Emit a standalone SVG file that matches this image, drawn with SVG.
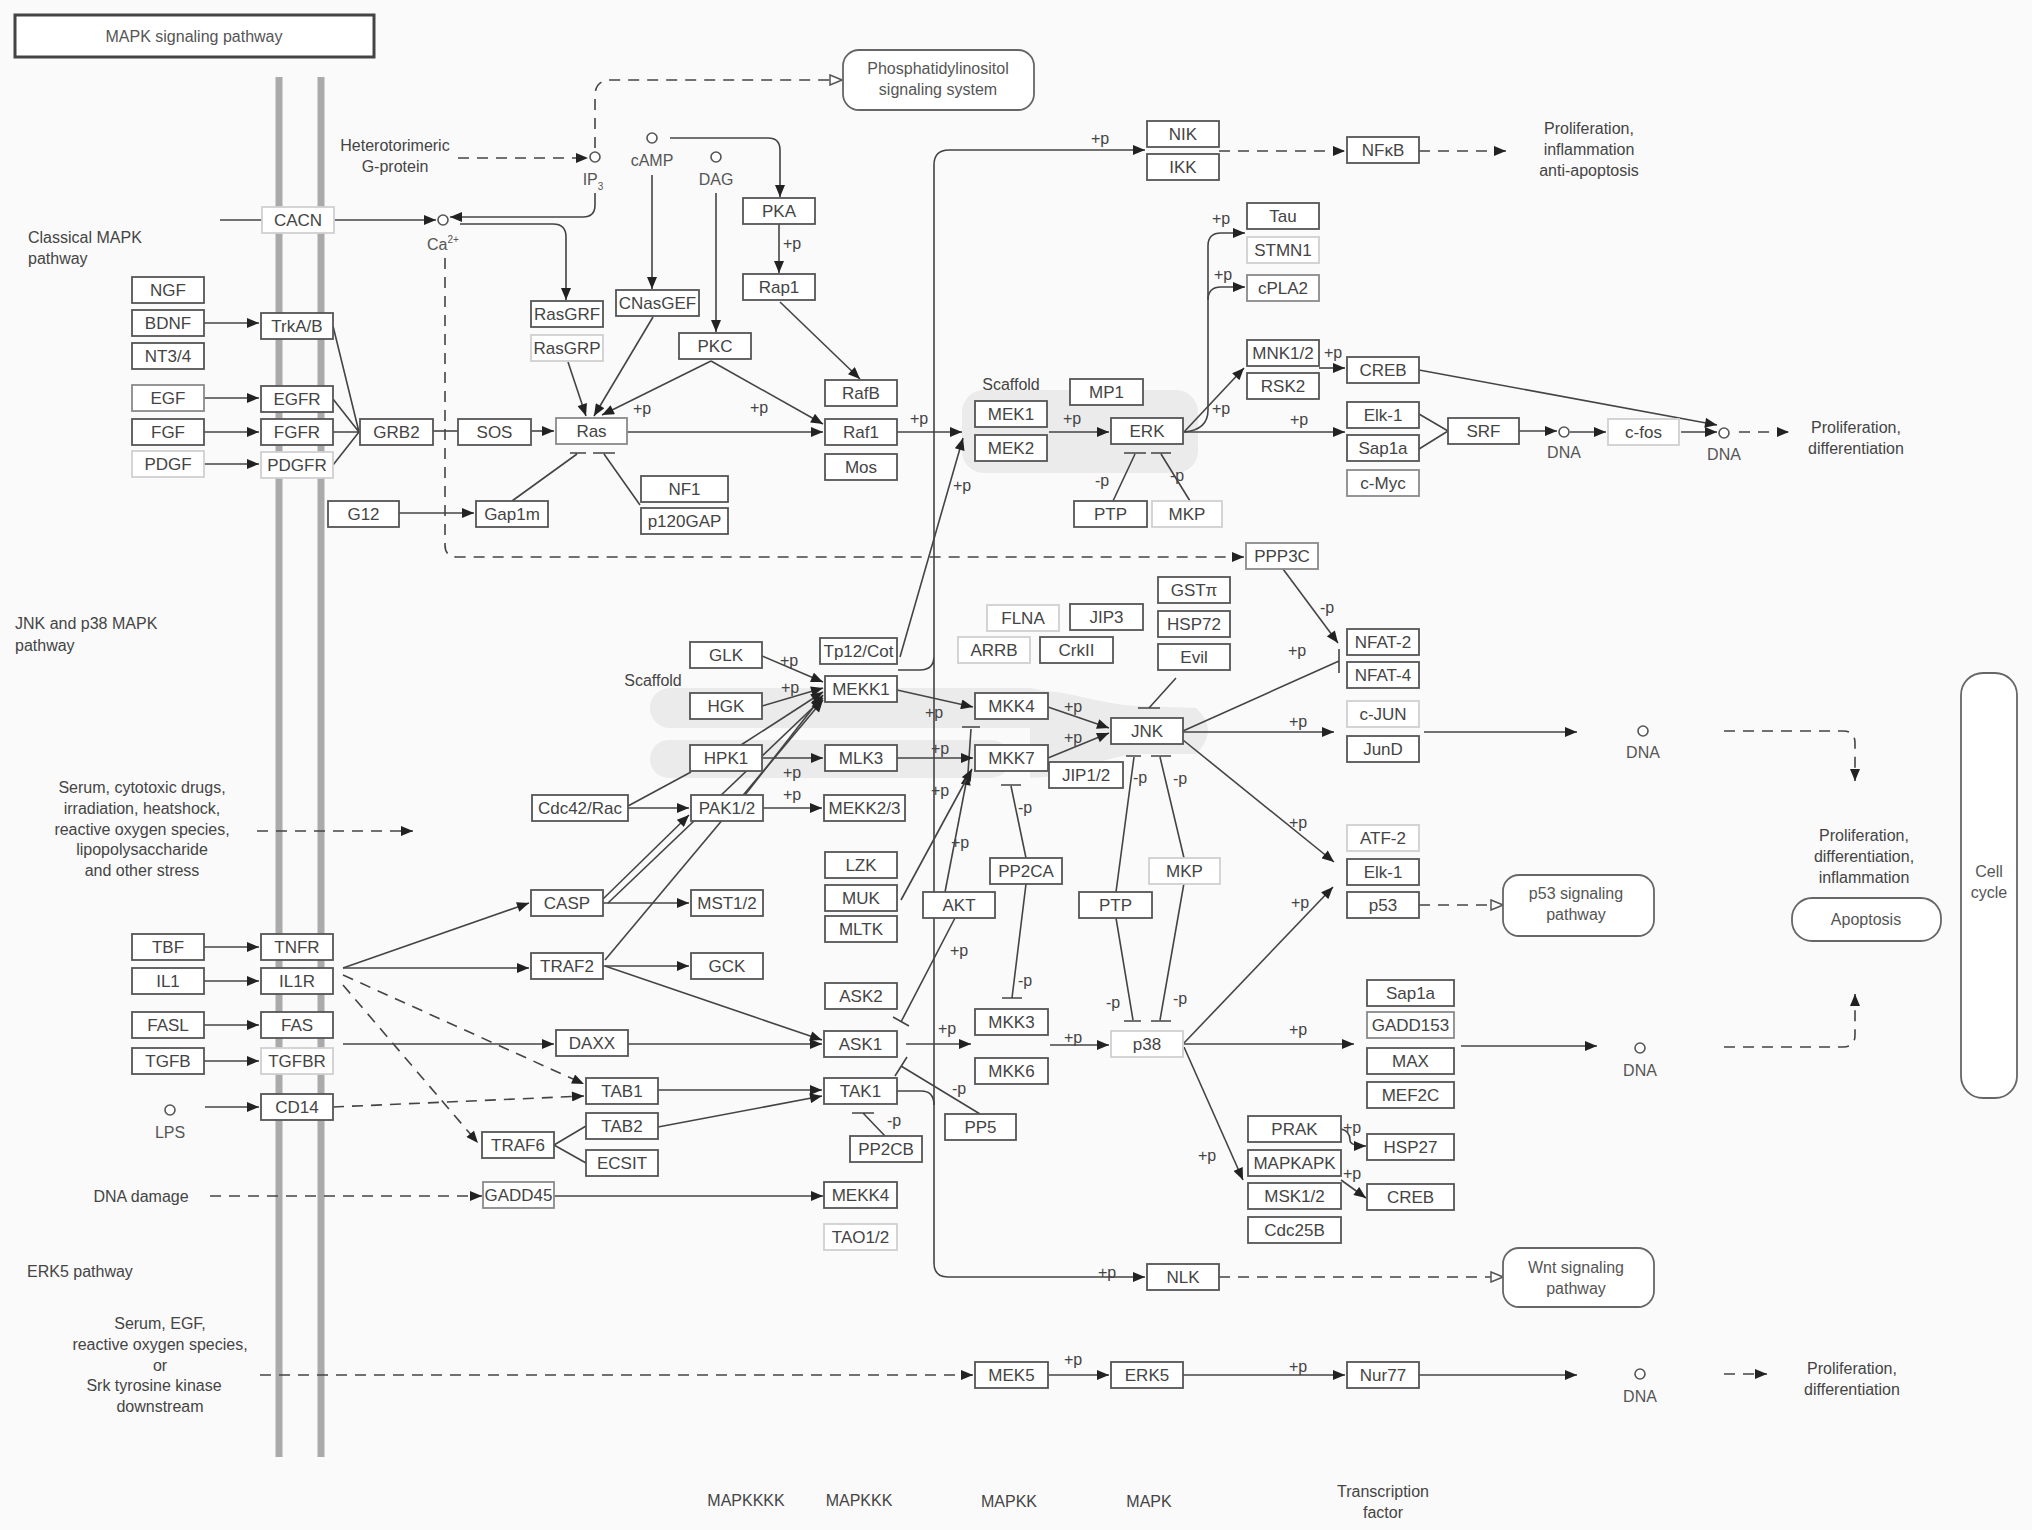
<svg xmlns="http://www.w3.org/2000/svg" width="2032" height="1530" viewBox="0 0 2032 1530">
<style>
text{font-family:"Liberation Sans",Arial,sans-serif;fill:#444;}
.n rect{fill:#fff;stroke:#555;stroke-width:1.8}
.m rect{stroke:#8a8a8a}
.l rect{stroke:#d0d0d0}
.n text{font-size:17px;text-anchor:middle;dominant-baseline:central}
.t{font-size:16px;fill:#555}
.c{text-anchor:middle}
.p{font-size:16px;fill:#444}
.e{fill:none;stroke:#444;stroke-width:1.6}
.d{stroke-dasharray:11 8}
.pw rect{fill:#fff;stroke:#666;stroke-width:1.8}
.pw text{font-size:16px;fill:#555;text-anchor:middle;dominant-baseline:central}
.ci{fill:#fff;stroke:#555;stroke-width:1.6}
.sc{fill:#ebebeb}
.mem{stroke:#aaa;stroke-width:7}
</style>
<defs>
<marker id="a" viewBox="0 0 12 10" refX="12" refY="5" markerWidth="13" markerHeight="10" markerUnits="userSpaceOnUse" orient="auto"><path d="M0,0 L12,5 L0,10 z" fill="#222"/></marker>
<marker id="o" viewBox="0 0 14 12" refX="13" refY="6" markerWidth="14" markerHeight="12" markerUnits="userSpaceOnUse" orient="auto"><path d="M1,1 L13,6 L1,11 z" fill="#fff" stroke="#555" stroke-width="1.5"/></marker>
</defs>
<rect x="0" y="0" width="2032" height="1530" fill="#fafafa"/>

<!-- scaffolds -->
<g id="scaffolds">
<rect class="sc" x="962" y="390" width="236" height="83" rx="22"/>
<rect class="sc" x="650" y="688" width="400" height="40" rx="20"/>
<rect class="sc" x="650" y="740" width="360" height="38" rx="19"/>
<path class="sc" d="M1030,690 C1070,690 1100,705 1140,706 L1196,708 Q1220,730 1196,754 L1140,754 C1100,756 1070,778 1030,778 Z"/>
</g>

<!-- membrane -->
<g id="membrane">
<line class="mem" x1="279" y1="77" x2="279" y2="1457"/>
<line class="mem" x1="321" y1="77" x2="321" y2="1457"/>
</g>

<!-- title -->
<g id="title">
<rect x="15" y="15" width="359" height="42" fill="#fff" stroke="#444" stroke-width="3"/>
<text class="t c" x="194" y="36" dominant-baseline="central">MAPK signaling pathway</text>
</g>

<!-- connectors -->
<g id="connectors">
<path class="e" d="M220,220 H262"/>
<path class="e" d="M334,220 H436" marker-end="url(#a)"/>
<path class="e d" d="M458,158 H588" marker-end="url(#a)"/>
<path class="e d" d="M595,148 V96 Q595,80 611,80 H842" marker-end="url(#o)"/>
<path class="e" d="M595,193 V205 Q595,217 583,217 H450" marker-end="url(#a)"/>
<path class="e" d="M460,224 H553 Q566,224 566,237 V300" marker-end="url(#a)"/>
<path class="e d" d="M445,258 V545 Q445,557 457,557 H1244" marker-end="url(#a)"/>
<path class="e" d="M670,138 H768 Q780,138 780,150 V197" marker-end="url(#a)"/>
<path class="e" d="M652,175 V289" marker-end="url(#a)"/>
<path class="e" d="M716,193 V332" marker-end="url(#a)"/>
<path class="e" d="M779,224 V273" marker-end="url(#a)"/>
<path class="e" d="M780,302 L860,379" marker-end="url(#a)"/>
<path class="e" d="M568,362 L586,416" marker-end="url(#a)"/>
<path class="e" d="M653,317 L594,416" marker-end="url(#a)"/>
<path class="e" d="M711,361 L602,415" marker-end="url(#a)"/>
<path class="e" d="M711,361 L823,424" marker-end="url(#a)"/>
<path class="e" d="M627,432 H823" marker-end="url(#a)"/>
<path class="e" d="M531,431 H554" marker-end="url(#a)"/>
<path class="e" d="M433,431 H458"/>
<path class="e" d="M333,326 L359,432 M333,399 L359,432 M333,432 L359,432 M333,465 L359,432"/>
<path class="e" d="M204,323 H259" marker-end="url(#a)"/>
<path class="e" d="M204,398 H259" marker-end="url(#a)"/>
<path class="e" d="M204,432 H259" marker-end="url(#a)"/>
<path class="e" d="M204,464 H259" marker-end="url(#a)"/>
<path class="e" d="M204,947 H259" marker-end="url(#a)"/>
<path class="e" d="M204,981 H259" marker-end="url(#a)"/>
<path class="e" d="M204,1025 H259" marker-end="url(#a)"/>
<path class="e" d="M204,1061 H259" marker-end="url(#a)"/>
<path class="e" d="M205,1107 H259" marker-end="url(#a)"/>
<path class="e" d="M399,513 H474" marker-end="url(#a)"/>
<path class="e" d="M570,453 H586 M593,453 H615 M577,454 L512,501 M604,454 L640,505"/>
<path class="e" d="M897,432 H962" marker-end="url(#a)"/>
<path class="e" d="M900,657 L963,438" marker-end="url(#a)"/>
<path class="e" d="M898,670 H920 Q934,670 934,656 M934,1263 V165 Q934,150 949,150 H1145" marker-end="url(#a)"/>
<path class="e" d="M897,1091 H921 Q934,1091 934,1105 M934,1263 Q934,1277 948,1277 H1145" marker-end="url(#a)"/>
<path class="e d" d="M1219,151 H1345" marker-end="url(#a)"/>
<path class="e d" d="M1419,151 H1506" marker-end="url(#a)"/>
<path class="e" d="M1049,432 H1109" marker-end="url(#a)"/>
<path class="e" d="M1184,432 Q1208,430 1208,410 V246 Q1208,233 1221,233 H1245" marker-end="url(#a)"/>
<path class="e" d="M1208,300 Q1208,287 1221,287 H1245" marker-end="url(#a)"/>
<path class="e" d="M1184,432 L1244,368" marker-end="url(#a)"/>
<path class="e" d="M1319,368 H1345" marker-end="url(#a)"/>
<path class="e" d="M1184,432 H1345" marker-end="url(#a)"/>
<path class="e" d="M1419,414 L1448,431 M1419,449 L1448,431"/>
<path class="e" d="M1519,431 H1557" marker-end="url(#a)"/>
<path class="e" d="M1570,432 H1606" marker-end="url(#a)"/>
<path class="e" d="M1681,432 H1717" marker-end="url(#a)"/>
<path class="e" d="M1419,370 L1717,425" marker-end="url(#a)"/>
<path class="e d" d="M1739,432 H1789" marker-end="url(#a)"/>
<path class="e" d="M1124,453 H1146 M1151,453 H1171 M1113,501 L1135,454 M1190,501 L1161,454"/>
<path class="e" d="M1283,569 L1338,643" marker-end="url(#a)"/>
<path class="e" d="M1183,731 L1339,661 M1339,649 V673"/>
<path class="e" d="M1183,732 H1334" marker-end="url(#a)"/>
<path class="e" d="M1424,732 H1577" marker-end="url(#a)"/>
<path class="e d" d="M1724,731 H1843 Q1855,731 1855,743 V781" marker-end="url(#a)"/>
<path class="e" d="M1183,740 L1334,862" marker-end="url(#a)"/>
<path class="e" d="M1184,1043 L1333,887" marker-end="url(#a)"/>
<path class="e d" d="M1419,905 H1503" marker-end="url(#o)"/>
<path class="e" d="M1176,678 L1149,708 M1138,708 H1160"/>
<path class="e" d="M1048,707 L1109,728" marker-end="url(#a)"/>
<path class="e" d="M1048,758 L1109,733" marker-end="url(#a)"/>
<path class="e" d="M1126,756 H1141 M1151,756 H1171 M1116,892 L1134,757 M1184,858 L1160,757"/>
<path class="e" d="M1124,1021 H1141 M1151,1021 H1171 M1116,918 L1133,1020 M1184,883 L1160,1020"/>
<path class="e" d="M1050,1045 H1109" marker-end="url(#a)"/>
<path class="e" d="M1184,1044 H1354" marker-end="url(#a)"/>
<path class="e" d="M1461,1046 H1597" marker-end="url(#a)"/>
<path class="e d" d="M1724,1047 H1843 Q1855,1047 1855,1035 V994" marker-end="url(#a)"/>
<path class="e" d="M1184,1047 L1243,1180" marker-end="url(#a)"/>
<path class="e" d="M1341,1129 Q1350,1131 1350,1140 Q1350,1146 1366,1146" marker-end="url(#a)"/>
<path class="e" d="M1341,1180 L1366,1198" marker-end="url(#a)"/>
<path class="e d" d="M1219,1277 H1503" marker-end="url(#o)"/>
<path class="e" d="M1049,1375 H1109" marker-end="url(#a)"/>
<path class="e" d="M1183,1375 H1345" marker-end="url(#a)"/>
<path class="e" d="M1419,1375 H1577" marker-end="url(#a)"/>
<path class="e d" d="M1724,1374 H1767" marker-end="url(#a)"/>
<path class="e d" d="M260,1375 H973" marker-end="url(#a)"/>
<path class="e d" d="M210,1196 H482" marker-end="url(#a)"/>
<path class="e" d="M554,1196 H823" marker-end="url(#a)"/>
<path class="e d" d="M257,831 H413" marker-end="url(#a)"/>
<path class="e" d="M343,968 L529,903" marker-end="url(#a)"/>
<path class="e" d="M343,968 H529" marker-end="url(#a)"/>
<path class="e d" d="M343,975 L584,1084" marker-end="url(#a)"/>
<path class="e d" d="M343,985 L478,1143" marker-end="url(#a)"/>
<path class="e d" d="M333,1107 L584,1096" marker-end="url(#a)"/>
<path class="e" d="M343,1044 H554" marker-end="url(#a)"/>
<path class="e" d="M628,1044 H822" marker-end="url(#a)"/>
<path class="e" d="M605,966 L822,1040" marker-end="url(#a)"/>
<path class="e" d="M658,1090 H822" marker-end="url(#a)"/>
<path class="e" d="M658,1127 L822,1096" marker-end="url(#a)"/>
<path class="e" d="M554,1145 L586,1126 M554,1145 L586,1163"/>
<path class="e" d="M885,1136 L863,1113 M852,1113 H874"/>
<path class="e" d="M980,1114 L901,1066 M895,1076 L907,1057"/>
<path class="e" d="M906,1044 H971" marker-end="url(#a)"/>
<path class="e" d="M955,918 L901,1022 M893,1017 L909,1026"/>
<path class="e" d="M945,892 L968,773" marker-end="url(#a)"/>
<path class="e" d="M968,773 L971,729 M962,727 H980"/>
<path class="e" d="M901,900 L972,769" marker-end="url(#a)"/>
<path class="e" d="M1026,858 L1011,786 M1001,785 H1021"/>
<path class="e" d="M1026,884 L1012,998 M1002,998 H1022"/>
<path class="e" d="M897,690 L973,707" marker-end="url(#a)"/>
<path class="e" d="M897,758 H973" marker-end="url(#a)"/>
<path class="e" d="M762,758 H823" marker-end="url(#a)"/>
<path class="e" d="M762,808 H822" marker-end="url(#a)"/>
<path class="e" d="M762,656 L823,682" marker-end="url(#a)"/>
<path class="e" d="M762,706 L823,688" marker-end="url(#a)"/>
<path class="e" d="M741,745 L823,692" marker-end="url(#a)"/>
<path class="e" d="M745,795 L823,695" marker-end="url(#a)"/>
<path class="e" d="M608,903 L823,698" marker-end="url(#a)"/>
<path class="e" d="M605,960 L823,700" marker-end="url(#a)"/>
<path class="e" d="M628,806 L691,772"/>
<path class="e" d="M628,808 H689" marker-end="url(#a)"/>
<path class="e" d="M603,899 L689,815" marker-end="url(#a)"/>
<path class="e" d="M603,903 H689" marker-end="url(#a)"/>
<path class="e" d="M603,966 H689" marker-end="url(#a)"/>
</g>

<!-- small molecules -->
<g id="compounds">
<circle class="ci" cx="443" cy="220" r="5"/>
<circle class="ci" cx="595" cy="157" r="5"/>
<circle class="ci" cx="652" cy="138" r="5"/>
<circle class="ci" cx="716" cy="157" r="5"/>
<circle class="ci" cx="170" cy="1110" r="5"/>
<circle class="ci" cx="1564" cy="432" r="5"/>
<circle class="ci" cx="1724" cy="433" r="5"/>
<circle class="ci" cx="1643" cy="731" r="5"/>
<circle class="ci" cx="1640" cy="1048" r="5"/>
<circle class="ci" cx="1640" cy="1374" r="5"/>
<text class="t c" x="443" y="250">Ca<tspan font-size="10" dy="-7">2+</tspan></text>
<text class="t c" x="593" y="185">IP<tspan font-size="10" dy="5">3</tspan></text>
<text class="t c" x="652" y="166">cAMP</text>
<text class="t c" x="716" y="185">DAG</text>
<text class="t c" x="170" y="1138">LPS</text>
<text class="t c" x="1564" y="458">DNA</text>
<text class="t c" x="1724" y="460">DNA</text>
<text class="t c" x="1643" y="758">DNA</text>
<text class="t c" x="1640" y="1076">DNA</text>
<text class="t c" x="1640" y="1402">DNA</text>
</g>

<!-- nodes -->
<g class="n" id="NGF"><rect x="132" y="277" width="72" height="26"/><text x="168" y="290">NGF</text></g>
<g class="n" id="BDNF"><rect x="132" y="310" width="72" height="26"/><text x="168" y="323">BDNF</text></g>
<g class="n" id="NT34"><rect x="132" y="343" width="72" height="26"/><text x="168" y="356">NT3/4</text></g>
<g class="n m" id="EGF"><rect x="132" y="385" width="72" height="26"/><text x="168" y="398">EGF</text></g>
<g class="n" id="FGF"><rect x="132" y="419" width="72" height="26"/><text x="168" y="432">FGF</text></g>
<g class="n l" id="PDGF"><rect x="132" y="451" width="72" height="26"/><text x="168" y="464">PDGF</text></g>
<g class="n" id="TBF"><rect x="132" y="934" width="72" height="26"/><text x="168" y="947">TBF</text></g>
<g class="n" id="IL1"><rect x="132" y="968" width="72" height="26"/><text x="168" y="981">IL1</text></g>
<g class="n" id="FASL"><rect x="132" y="1012" width="72" height="26"/><text x="168" y="1025">FASL</text></g>
<g class="n" id="TGFB"><rect x="132" y="1048" width="72" height="26"/><text x="168" y="1061">TGFB</text></g>
<g class="n l" id="CACN"><rect x="262" y="207" width="72" height="26"/><text x="298" y="220">CACN</text></g>
<g class="n" id="TrkAB"><rect x="261" y="313" width="72" height="26"/><text x="297" y="326">TrkA/B</text></g>
<g class="n" id="EGFR"><rect x="261" y="386" width="72" height="26"/><text x="297" y="399">EGFR</text></g>
<g class="n" id="FGFR"><rect x="261" y="419" width="72" height="26"/><text x="297" y="432">FGFR</text></g>
<g class="n l" id="PDGFR"><rect x="261" y="452" width="72" height="26"/><text x="297" y="465">PDGFR</text></g>
<g class="n" id="TNFR"><rect x="261" y="934" width="72" height="26"/><text x="297" y="947">TNFR</text></g>
<g class="n" id="IL1R"><rect x="261" y="968" width="72" height="26"/><text x="297" y="981">IL1R</text></g>
<g class="n" id="FAS"><rect x="261" y="1012" width="72" height="26"/><text x="297" y="1025">FAS</text></g>
<g class="n l" id="TGFBR"><rect x="261" y="1048" width="72" height="26"/><text x="297" y="1061">TGFBR</text></g>
<g class="n" id="CD14"><rect x="261" y="1094" width="72" height="26"/><text x="297" y="1107">CD14</text></g>
<g class="n" id="GRB2"><rect x="360" y="419" width="73" height="26"/><text x="396.5" y="432">GRB2</text></g>
<g class="n" id="SOS"><rect x="458" y="419" width="73" height="26"/><text x="494.5" y="432">SOS</text></g>
<g class="n" id="G12"><rect x="328" y="501" width="71" height="26"/><text x="363.5" y="514">G12</text></g>
<g class="n" id="Gap1m"><rect x="476" y="501" width="72" height="26"/><text x="512" y="514">Gap1m</text></g>
<g class="n m" id="Ras"><rect x="556" y="418" width="71" height="26"/><text x="591.5" y="431">Ras</text></g>
<g class="n" id="RasGRF"><rect x="531" y="301" width="72" height="26"/><text x="567" y="314">RasGRF</text></g>
<g class="n l" id="RasGRP"><rect x="531" y="335" width="72" height="26"/><text x="567" y="348">RasGRP</text></g>
<g class="n" id="CNasGEF"><rect x="616" y="290" width="83" height="26"/><text x="657.5" y="303">CNasGEF</text></g>
<g class="n" id="PKC"><rect x="679" y="333" width="72" height="26"/><text x="715" y="346">PKC</text></g>
<g class="n" id="PKA"><rect x="743" y="198" width="72" height="26"/><text x="779" y="211">PKA</text></g>
<g class="n" id="Rap1"><rect x="743" y="274" width="72" height="26"/><text x="779" y="287">Rap1</text></g>
<g class="n" id="RafB"><rect x="825" y="380" width="72" height="26"/><text x="861" y="393">RafB</text></g>
<g class="n" id="Raf1"><rect x="825" y="419" width="72" height="26"/><text x="861" y="432">Raf1</text></g>
<g class="n" id="Mos"><rect x="825" y="454" width="72" height="26"/><text x="861" y="467">Mos</text></g>
<g class="n" id="NF1"><rect x="641" y="476" width="87" height="26"/><text x="684.5" y="489">NF1</text></g>
<g class="n" id="p120GAP"><rect x="641" y="508" width="87" height="26"/><text x="684.5" y="521">p120GAP</text></g>
<g class="n" id="MEK1"><rect x="975" y="401" width="72" height="26"/><text x="1011" y="414">MEK1</text></g>
<g class="n" id="MEK2"><rect x="975" y="435" width="72" height="26"/><text x="1011" y="448">MEK2</text></g>
<g class="n" id="MP1"><rect x="1070" y="379" width="73" height="26"/><text x="1106.5" y="392">MP1</text></g>
<g class="n" id="ERK"><rect x="1111" y="418" width="72" height="26"/><text x="1147" y="431">ERK</text></g>
<g class="n" id="PTP1"><rect x="1074" y="501" width="73" height="26"/><text x="1110.5" y="514">PTP</text></g>
<g class="n l" id="MKP1"><rect x="1152" y="501" width="70" height="26"/><text x="1187" y="514">MKP</text></g>
<g class="n" id="NIK"><rect x="1147" y="121" width="72" height="26"/><text x="1183" y="134">NIK</text></g>
<g class="n" id="IKK"><rect x="1147" y="154" width="72" height="26"/><text x="1183" y="167">IKK</text></g>
<g class="n" id="NFkB"><rect x="1347" y="137" width="72" height="26"/><text x="1383" y="150">NFκB</text></g>
<g class="n" id="Tau"><rect x="1247" y="203" width="72" height="26"/><text x="1283" y="216">Tau</text></g>
<g class="n l" id="STMN1"><rect x="1247" y="237" width="72" height="26"/><text x="1283" y="250">STMN1</text></g>
<g class="n m" id="cPLA2"><rect x="1247" y="275" width="72" height="26"/><text x="1283" y="288">cPLA2</text></g>
<g class="n" id="MNK12"><rect x="1247" y="340" width="72" height="26"/><text x="1283" y="353">MNK1/2</text></g>
<g class="n" id="RSK2"><rect x="1247" y="373" width="72" height="26"/><text x="1283" y="386">RSK2</text></g>
<g class="n" id="CREB1"><rect x="1347" y="357" width="72" height="26"/><text x="1383" y="370">CREB</text></g>
<g class="n" id="Elk1a"><rect x="1347" y="402" width="72" height="26"/><text x="1383" y="415">Elk-1</text></g>
<g class="n" id="Sap1a1"><rect x="1347" y="435" width="72" height="26"/><text x="1383" y="448">Sap1a</text></g>
<g class="n m" id="cMyc"><rect x="1347" y="470" width="72" height="26"/><text x="1383" y="483">c-Myc</text></g>
<g class="n" id="SRF"><rect x="1448" y="418" width="71" height="26"/><text x="1483.5" y="431">SRF</text></g>
<g class="n l" id="cfos"><rect x="1608" y="419" width="71" height="26"/><text x="1643.5" y="432">c-fos</text></g>
<g class="n m" id="PPP3C"><rect x="1246" y="543" width="72" height="26"/><text x="1282" y="556">PPP3C</text></g>
<g class="n" id="GLK"><rect x="690" y="642" width="72" height="26"/><text x="726" y="655">GLK</text></g>
<g class="n" id="Tp12Cot"><rect x="820" y="638" width="77" height="26"/><text x="858.5" y="651">Tp12/Cot</text></g>
<g class="n" id="HGK"><rect x="690" y="693" width="72" height="26"/><text x="726" y="706">HGK</text></g>
<g class="n" id="MEKK1"><rect x="825" y="676" width="72" height="26"/><text x="861" y="689">MEKK1</text></g>
<g class="n" id="HPK1"><rect x="690" y="745" width="72" height="26"/><text x="726" y="758">HPK1</text></g>
<g class="n" id="MLK3"><rect x="825" y="745" width="72" height="26"/><text x="861" y="758">MLK3</text></g>
<g class="n" id="Cdc42Rac"><rect x="532" y="795" width="96" height="26"/><text x="580" y="808">Cdc42/Rac</text></g>
<g class="n" id="PAK12"><rect x="691" y="795" width="72" height="26"/><text x="727" y="808">PAK1/2</text></g>
<g class="n" id="MEKK23"><rect x="824" y="795" width="81" height="26"/><text x="864.5" y="808">MEKK2/3</text></g>
<g class="n" id="LZK"><rect x="825" y="852" width="72" height="26"/><text x="861" y="865">LZK</text></g>
<g class="n" id="MUK"><rect x="825" y="885" width="72" height="26"/><text x="861" y="898">MUK</text></g>
<g class="n" id="MLTK"><rect x="825" y="916" width="72" height="26"/><text x="861" y="929">MLTK</text></g>
<g class="n" id="AKT"><rect x="923" y="892" width="72" height="26"/><text x="959" y="905">AKT</text></g>
<g class="n" id="CASP"><rect x="531" y="890" width="72" height="26"/><text x="567" y="903">CASP</text></g>
<g class="n" id="MST12"><rect x="691" y="890" width="72" height="26"/><text x="727" y="903">MST1/2</text></g>
<g class="n" id="TRAF2"><rect x="531" y="953" width="72" height="26"/><text x="567" y="966">TRAF2</text></g>
<g class="n" id="GCK"><rect x="691" y="953" width="72" height="26"/><text x="727" y="966">GCK</text></g>
<g class="n" id="ASK2"><rect x="825" y="983" width="72" height="26"/><text x="861" y="996">ASK2</text></g>
<g class="n l" id="FLNA"><rect x="987" y="605" width="72" height="26"/><text x="1023" y="618">FLNA</text></g>
<g class="n" id="JIP3"><rect x="1070" y="604" width="73" height="26"/><text x="1106.5" y="617">JIP3</text></g>
<g class="n l" id="ARRB"><rect x="958" y="637" width="72" height="26"/><text x="994" y="650">ARRB</text></g>
<g class="n" id="CrkII"><rect x="1040" y="637" width="73" height="26"/><text x="1076.5" y="650">CrkII</text></g>
<g class="n" id="GSTpi"><rect x="1158" y="577" width="72" height="26"/><text x="1194" y="590">GSTπ</text></g>
<g class="n" id="HSP72"><rect x="1158" y="611" width="72" height="26"/><text x="1194" y="624">HSP72</text></g>
<g class="n" id="Evil"><rect x="1158" y="644" width="72" height="26"/><text x="1194" y="657">Evil</text></g>
<g class="n" id="MKK4"><rect x="975" y="693" width="73" height="26"/><text x="1011.5" y="706">MKK4</text></g>
<g class="n" id="MKK7"><rect x="975" y="745" width="73" height="26"/><text x="1011.5" y="758">MKK7</text></g>
<g class="n" id="JNK"><rect x="1111" y="718" width="72" height="26"/><text x="1147" y="731">JNK</text></g>
<g class="n" id="JIP12"><rect x="1049" y="762" width="74" height="26"/><text x="1086" y="775">JIP1/2</text></g>
<g class="n" id="PP2CA"><rect x="990" y="858" width="72" height="26"/><text x="1026" y="871">PP2CA</text></g>
<g class="n" id="PTP2"><rect x="1079" y="892" width="73" height="26"/><text x="1115.5" y="905">PTP</text></g>
<g class="n l" id="MKP2"><rect x="1149" y="858" width="71" height="26"/><text x="1184.5" y="871">MKP</text></g>
<g class="n" id="NFAT2"><rect x="1347" y="629" width="72" height="26"/><text x="1383" y="642">NFAT-2</text></g>
<g class="n" id="NFAT4"><rect x="1347" y="662" width="72" height="26"/><text x="1383" y="675">NFAT-4</text></g>
<g class="n l" id="cJUN"><rect x="1347" y="701" width="72" height="26"/><text x="1383" y="714">c-JUN</text></g>
<g class="n" id="JunD"><rect x="1347" y="736" width="72" height="26"/><text x="1383" y="749">JunD</text></g>
<g class="n l" id="ATF2"><rect x="1347" y="825" width="72" height="26"/><text x="1383" y="838">ATF-2</text></g>
<g class="n" id="Elk1b"><rect x="1347" y="859" width="72" height="26"/><text x="1383" y="872">Elk-1</text></g>
<g class="n" id="p53"><rect x="1347" y="892" width="72" height="26"/><text x="1383" y="905">p53</text></g>
<g class="n" id="DAXX"><rect x="556" y="1030" width="72" height="26"/><text x="592" y="1043">DAXX</text></g>
<g class="n" id="ASK1"><rect x="824" y="1031" width="73" height="26"/><text x="860.5" y="1044">ASK1</text></g>
<g class="n" id="TAB1"><rect x="586" y="1078" width="72" height="26"/><text x="622" y="1091">TAB1</text></g>
<g class="n" id="TAK1"><rect x="824" y="1078" width="73" height="26"/><text x="860.5" y="1091">TAK1</text></g>
<g class="n" id="TAB2"><rect x="586" y="1113" width="72" height="26"/><text x="622" y="1126">TAB2</text></g>
<g class="n" id="ECSIT"><rect x="586" y="1150" width="72" height="26"/><text x="622" y="1163">ECSIT</text></g>
<g class="n" id="TRAF6"><rect x="482" y="1132" width="72" height="26"/><text x="518" y="1145">TRAF6</text></g>
<g class="n m" id="GADD45"><rect x="483" y="1182" width="71" height="26"/><text x="518.5" y="1195">GADD45</text></g>
<g class="n" id="MEKK4"><rect x="824" y="1182" width="73" height="26"/><text x="860.5" y="1195">MEKK4</text></g>
<g class="n l" id="TAO12"><rect x="824" y="1224" width="73" height="26"/><text x="860.5" y="1237">TAO1/2</text></g>
<g class="n" id="PP2CB"><rect x="850" y="1136" width="72" height="26"/><text x="886" y="1149">PP2CB</text></g>
<g class="n" id="PP5"><rect x="945" y="1114" width="71" height="26"/><text x="980.5" y="1127">PP5</text></g>
<g class="n" id="MKK3"><rect x="975" y="1009" width="73" height="26"/><text x="1011.5" y="1022">MKK3</text></g>
<g class="n" id="MKK6"><rect x="975" y="1058" width="73" height="26"/><text x="1011.5" y="1071">MKK6</text></g>
<g class="n l" id="p38"><rect x="1111" y="1031" width="72" height="26"/><text x="1147" y="1044">p38</text></g>
<g class="n" id="Sap1a2"><rect x="1367" y="980" width="87" height="26"/><text x="1410.5" y="993">Sap1a</text></g>
<g class="n m" id="GADD153"><rect x="1367" y="1012" width="87" height="26"/><text x="1410.5" y="1025">GADD153</text></g>
<g class="n" id="MAX"><rect x="1367" y="1048" width="87" height="26"/><text x="1410.5" y="1061">MAX</text></g>
<g class="n" id="MEF2C"><rect x="1367" y="1082" width="87" height="26"/><text x="1410.5" y="1095">MEF2C</text></g>
<g class="n" id="PRAK"><rect x="1248" y="1116" width="93" height="26"/><text x="1294.5" y="1129">PRAK</text></g>
<g class="n" id="MAPKAPK"><rect x="1248" y="1150" width="93" height="26"/><text x="1294.5" y="1163">MAPKAPK</text></g>
<g class="n" id="MSK12"><rect x="1248" y="1183" width="93" height="26"/><text x="1294.5" y="1196">MSK1/2</text></g>
<g class="n" id="Cdc25B"><rect x="1248" y="1217" width="93" height="26"/><text x="1294.5" y="1230">Cdc25B</text></g>
<g class="n" id="HSP27"><rect x="1367" y="1134" width="87" height="26"/><text x="1410.5" y="1147">HSP27</text></g>
<g class="n" id="CREB2"><rect x="1367" y="1184" width="87" height="26"/><text x="1410.5" y="1197">CREB</text></g>
<g class="n" id="NLK"><rect x="1147" y="1264" width="72" height="26"/><text x="1183" y="1277">NLK</text></g>
<g class="n" id="MEK5"><rect x="975" y="1362" width="73" height="26"/><text x="1011.5" y="1375">MEK5</text></g>
<g class="n" id="ERK5"><rect x="1111" y="1362" width="72" height="26"/><text x="1147" y="1375">ERK5</text></g>
<g class="n" id="Nur77"><rect x="1347" y="1362" width="72" height="26"/><text x="1383" y="1375">Nur77</text></g>

<!-- pathway / outcome boxes -->
<g class="pw" id="PI"><rect x="843" y="50" width="191" height="60" rx="16"/><text x="938" y="68">Phosphatidylinositol</text><text x="938" y="89">signaling system</text></g>
<g class="pw" id="p53path"><rect x="1503" y="875" width="151" height="61" rx="16"/><text x="1576" y="893">p53 signaling</text><text x="1576" y="914">pathway</text></g>
<g class="pw" id="Wnt"><rect x="1503" y="1248" width="151" height="59" rx="16"/><text x="1576" y="1267">Wnt signaling</text><text x="1576" y="1288">pathway</text></g>
<g class="pw" id="Apoptosis"><rect x="1792" y="898" width="149" height="43" rx="20"/><text x="1866" y="919">Apoptosis</text></g>
<g class="pw" id="CellCycle"><rect x="1961" y="673" width="56" height="425" rx="22"/><text x="1989" y="871">Cell</text><text x="1989" y="892">cycle</text></g>

<!-- labels -->
<g id="labels" class="t">
<text class="c" x="395" y="151">Heterotorimeric</text>
<text class="c" x="395" y="172">G-protein</text>
<text x="28" y="243">Classical MAPK</text>
<text x="28" y="264">pathway</text>
<text x="15" y="629">JNK and p38 MAPK</text>
<text x="15" y="651">pathway</text>
<text class="c" x="142" y="793">Serum, cytotoxic drugs,</text>
<text class="c" x="142" y="814">irradiation, heatshock,</text>
<text class="c" x="142" y="835">reactive oxygen species,</text>
<text class="c" x="142" y="855">lipopolysaccharide</text>
<text class="c" x="142" y="876">and other stress</text>
<text class="c" x="141" y="1202">DNA damage</text>
<text x="27" y="1277">ERK5 pathway</text>
<text class="c" x="160" y="1329">Serum, EGF,</text>
<text class="c" x="160" y="1350">reactive oxygen species,</text>
<text class="c" x="160" y="1371">or</text>
<text class="c" x="154" y="1391">Srk tyrosine kinase</text>
<text class="c" x="160" y="1412">downstream</text>
<text class="c" x="1011" y="390">Scaffold</text>
<text class="c" x="653" y="686">Scaffold</text>
<text class="c" x="1589" y="134">Proliferation,</text>
<text class="c" x="1589" y="155">inflammation</text>
<text class="c" x="1589" y="176">anti-apoptosis</text>
<text class="c" x="1856" y="433">Proliferation,</text>
<text class="c" x="1856" y="454">differentiation</text>
<text class="c" x="1864" y="841">Proliferation,</text>
<text class="c" x="1864" y="862">differentiation,</text>
<text class="c" x="1864" y="883">inflammation</text>
<text class="c" x="1852" y="1374">Proliferation,</text>
<text class="c" x="1852" y="1395">differentiation</text>
<text class="c" x="746" y="1506">MAPKKKK</text>
<text class="c" x="859" y="1506">MAPKKK</text>
<text class="c" x="1009" y="1507">MAPKK</text>
<text class="c" x="1149" y="1507">MAPK</text>
<text class="c" x="1383" y="1497">Transcription</text>
<text class="c" x="1383" y="1518">factor</text>
</g>

<!-- phosphorylation labels -->
<g id="plabels" class="p">
<text x="783" y="249">+p</text>
<text x="633" y="414">+p</text>
<text x="750" y="413">+p</text>
<text x="910" y="424">+p</text>
<text x="953" y="491">+p</text>
<text x="1091" y="144">+p</text>
<text x="1063" y="424">+p</text>
<text x="1212" y="224">+p</text>
<text x="1214" y="280">+p</text>
<text x="1212" y="414">+p</text>
<text x="1324" y="358">+p</text>
<text x="1290" y="425">+p</text>
<text x="1095" y="486">-p</text>
<text x="1170" y="481">-p</text>
<text x="1320" y="613">-p</text>
<text x="1288" y="656">+p</text>
<text x="1289" y="727">+p</text>
<text x="1289" y="828">+p</text>
<text x="1291" y="908">+p</text>
<text x="1064" y="712">+p</text>
<text x="1064" y="743">+p</text>
<text x="1133" y="783">-p</text>
<text x="1173" y="784">-p</text>
<text x="1106" y="1008">-p</text>
<text x="1173" y="1004">-p</text>
<text x="1064" y="1043">+p</text>
<text x="1289" y="1035">+p</text>
<text x="1198" y="1161">+p</text>
<text x="1343" y="1133">+p</text>
<text x="1343" y="1179">+p</text>
<text x="1098" y="1278">+p</text>
<text x="1064" y="1365">+p</text>
<text x="1289" y="1372">+p</text>
<text x="780" y="666">+p</text>
<text x="781" y="693">+p</text>
<text x="783" y="778">+p</text>
<text x="783" y="800">+p</text>
<text x="925" y="718">+p</text>
<text x="931" y="754">+p</text>
<text x="931" y="796">+p</text>
<text x="951" y="848">+p</text>
<text x="950" y="956">+p</text>
<text x="1018" y="813">-p</text>
<text x="1018" y="986">-p</text>
<text x="938" y="1034">+p</text>
<text x="952" y="1094">-p</text>
<text x="887" y="1126">-p</text>
</g>
</svg>
